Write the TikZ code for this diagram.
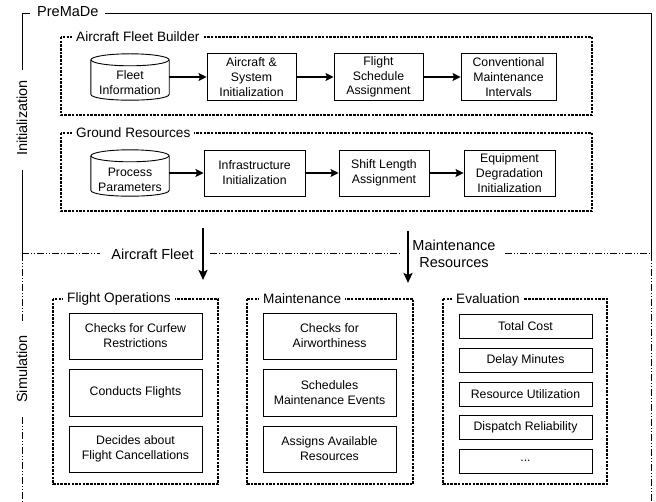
\documentclass[tikz,border=0pt]{standalone}
\usepackage{fontspec}
\setmainfont{Liberation Sans}
\usetikzlibrary{arrows.meta,calc}
\newcommand\fszbox{\fontsize{12.3}{14.8}\selectfont}
\newcommand\fszgrp{\fontsize{13.6}{16}\selectfont}
\newcommand\fszframe{\fontsize{14.5}{17}\selectfont}
\tikzset{
  box/.style={draw, line width=0.9pt, align=center, inner sep=0pt, font=\fszbox},
  cylnode/.style={inner sep=0pt, minimum width=78pt, minimum height=46pt},
  txt/.style={align=center, inner sep=0pt, font=\fszbox},
  grp/.style={draw, line width=1.1pt, dash pattern=on 2.5pt off 1.2pt},
  glabel/.style={fill=white, inner xsep=4pt, inner ysep=1pt, anchor=west, font=\fszgrp},
  arr/.style={line width=2pt, -{Stealth[length=8pt,width=8pt,inset=1.5pt]}},
  varr/.style={line width=2pt, -{Stealth[length=10pt,width=9pt,inset=2pt]}},
  solidframe/.style={line width=1pt},
  ddot/.style={line width=1pt, dash pattern=on 7pt off 2pt on 1pt off 2pt on 1pt off 2pt},
  framelabel/.style={inner sep=0pt, font=\fszframe},
}
\newcommand\cylshape[1]{%
  \draw[line width=0.9pt] ($(#1.north west)+(0,6)$) -- ($(#1.south west)+(0,-6)$)
    .. controls ($(#1.south west)+(0,2)$) and ($(#1.south east)+(0,2)$) .. ($(#1.south east)+(0,-6)$)
    -- ($(#1.north east)+(0,6)$);
  \draw[line width=0.9pt] ($(#1.north)+(0,6)$) ellipse [x radius=39, y radius=6];
}
\begin{document}
\begin{tikzpicture}[x=1pt,y=-1pt]
\useasboundingbox (0,0) rectangle (656,502);

% ---- outer frame: initialization (solid) ----
\draw[solidframe] (22,70) -- (22,14) -- (30,14);
\draw[solidframe] (105,14) -- (651,14) -- (651,254);
\draw[solidframe] (22,170) -- (22,254);
\node[framelabel, anchor=west] (premade) at (37,12) {PreMaDe};
\node[framelabel, rotate=90] (init) at (22,118) {Initialization};

% ---- simulation frame (dash dot dot) ----
\draw[ddot] (22,254) -- (100,254);
\draw[ddot] (210,254) -- (400,254);
\draw[ddot] (505,254) -- (651,254);
\draw[ddot] (22,254) -- (22,323);
\draw[ddot] (22,417) -- (22,502);
\draw[ddot] (651,254) -- (651,502);
\node[framelabel, rotate=90] (sim) at (22,369) {Simulation};
\node[framelabel] (aflabel) at (152.5,254) {Aircraft Fleet};
\node[framelabel, align=center] (mrlabel) at (454,254) {Maintenance\\Resources};

% ---- groups ----
\draw[grp] (61,37) rectangle (592,115);
\node[glabel] (afb) at (72,37) {Aircraft Fleet Builder};
\draw[grp] (61,133) rectangle (592,211);
\node[glabel] (gres) at (72,133) {Ground Resources};
\draw[grp] (53,299) rectangle (218,484);
\node[glabel] (fop) at (63,299) {Flight Operations};
\draw[grp] (247,299) rectangle (413,484);
\node[glabel] (mnt) at (259,299) {Maintenance};
\draw[grp] (443,299) rectangle (607,484);
\node[glabel] (evl) at (452,299) {Evaluation};

% ---- row 1 ----
\node[cylnode] (fi) at (130,77) {};
\cylshape{fi}
\node[txt] (fitxt) at ($(fi)+(0,6)$) {Fleet\\Information};
\node[box, minimum width=89pt, minimum height=47pt] (as) at (251.5,77) {Aircraft \&\\System\\Initialization};
\node[box, minimum width=89pt, minimum height=47pt] (fs) at (378.5,77) {Flight\\Schedule\\Assignment};
\node[box, minimum width=95pt, minimum height=47pt] (cm) at (508.5,77) {Conventional\\Maintenance\\Intervals};
\draw[arr] (fi.east) -- (as.west);
\draw[arr] (as.east) -- (fs.west);
\draw[arr] (fs.east) -- (cm.west);

% ---- row 2 ----
\node[cylnode] (pp) at (130,173) {};
\cylshape{pp}
\node[txt] (pptxt) at ($(pp)+(0,7)$) {Process\\Parameters};
\node[box, minimum width=101pt, minimum height=46pt] (ii) at (254.5,173) {Infrastructure\\Initialization};
\node[box, minimum width=90pt, minimum height=46pt] (sl) at (384,173) {Shift Length\\Assignment};
\node[box, minimum width=91pt, minimum height=46pt] (ed) at (509.5,173) {Equipment\\Degradation\\Initialization};
\draw[arr] (pp.east) -- (ii.west);
\draw[arr] (ii.east) -- (sl.west);
\draw[arr] (sl.east) -- (ed.west);

% ---- vertical arrows ----
\coordinate (af0) at (203,228);
\coordinate (af1) at (203,280);
\coordinate (mr0) at (408,231);
\coordinate (mr1) at (408,283);
\draw[varr] (af0) -- (af1);
\draw[varr] (mr0) -- (mr1);

% ---- flight operations ----
\node[box, minimum width=133pt, minimum height=46pt] (fo1) at (135.5,336) {Checks for Curfew\\Restrictions};
\node[box, minimum width=133pt, minimum height=47pt] (fo2) at (135.5,392.5) {Conducts Flights};
\node[box, minimum width=133pt, minimum height=46pt] (fo3) at (135.5,449) {Decides about\\Flight Cancellations};

% ---- maintenance ----
\node[box, minimum width=133pt, minimum height=46pt] (m1) at (329.5,336) {Checks for\\Airworthiness};
\node[box, minimum width=133pt, minimum height=47pt] (m2) at (329.5,392.5) {Schedules\\Maintenance Events};
\node[box, minimum width=133pt, minimum height=46pt] (m3) at (329.5,449) {Assigns Available\\Resources};

% ---- evaluation ----
\node[box, minimum width=133pt, minimum height=24pt] (e1) at (525.5,326) {Total Cost};
\node[box, minimum width=133pt, minimum height=24pt] (e2) at (525.5,360) {Delay Minutes};
\node[box, minimum width=133pt, minimum height=24pt] (e3) at (525.5,394) {Resource Utilization};
\node[box, minimum width=133pt, minimum height=24pt] (e4) at (525.5,427.5) {Dispatch Reliability};
\node[box, minimum width=133pt, minimum height=24pt] (e5) at (525.5,461) {...};
\end{tikzpicture}
\end{document}
